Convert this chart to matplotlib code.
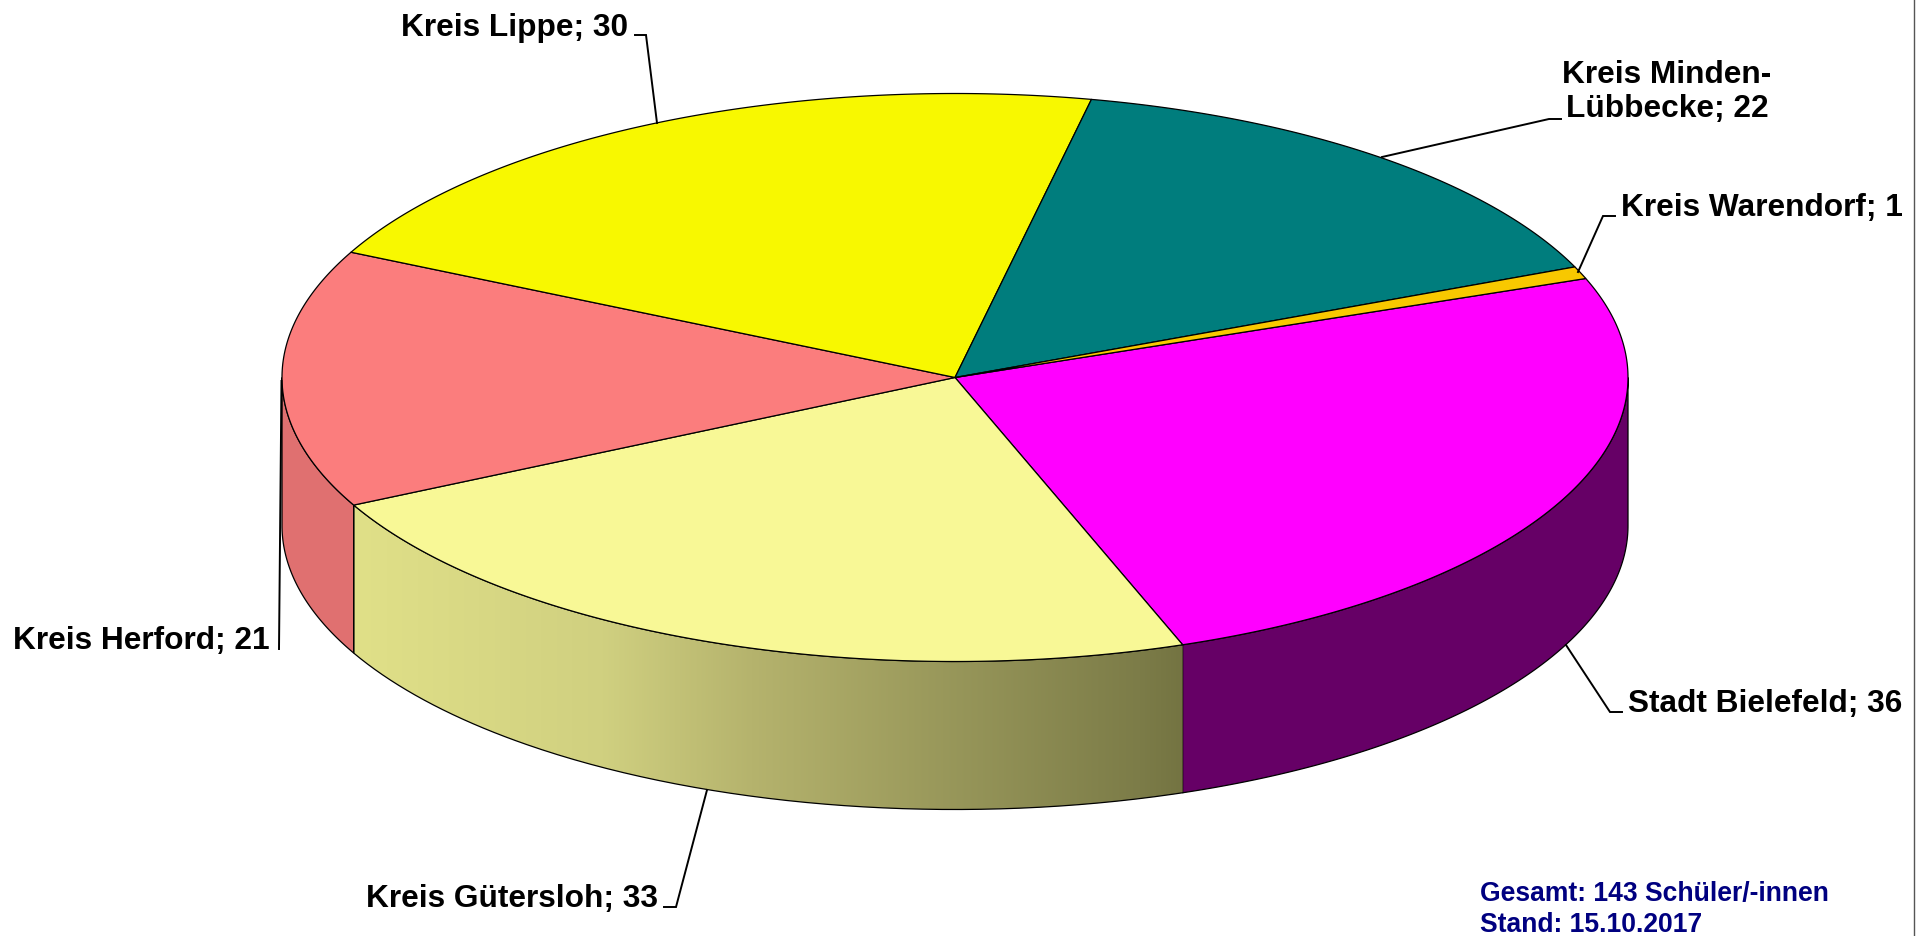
import numpy as np
import matplotlib
matplotlib.use("Agg")
import matplotlib.pyplot as plt
from matplotlib.patches import Polygon

# ---- data ----
categories = ["Stadt Bielefeld", "Kreis Gütersloh", "Kreis Herford", "Kreis Lippe",
              "Kreis Minden-\nLübbecke", "Kreis Warendorf"]
values = [36, 33, 21, 30, 22, 1]
top_colors = ["#FF00FF", "#F8F896", "#FB7D7D", "#F8F800", "#007D7D", "#F8C800"]
side_colors = ["#660066", None, "#E07070", None, None, None]
footer = ["Gesamt: 143 Schüler/-innen", "Stand: 15.10.2017"]

W, H = 1930, 936
CX, CY, RX, RY, DEPTH = 955, 377.5, 673, 284, 148
START_DEG = 20.4
FONT = "Liberation Sans"

fig = plt.figure(figsize=(W / 100, H / 100), dpi=100)
ax = fig.add_axes([0, 0, 1, 1])
ax.set_xlim(0, W)
ax.set_ylim(H, 0)
ax.axis("off")


def pt(deg):
    a = np.radians(deg)
    return CX + RX * np.cos(a), CY - RY * np.sin(a)


edges = START_DEG - np.concatenate([[0], np.cumsum(values)]) * 360 / sum(values)
EC = "#000000"
LW = 0.9

# side wall: only the visible front arc
for i, (a0, a1) in enumerate(zip(edges[:-1], edges[1:])):
    lo, hi = max(a1, -180), min(a0, 0)
    if lo >= hi:
        continue
    ang = np.linspace(hi, lo, 200)
    x, y = pt(ang)
    verts = np.column_stack([np.r_[x, x[::-1]], np.r_[y, y[::-1] + DEPTH]])
    if side_colors[i] is not None:
        ax.add_patch(Polygon(verts, closed=True, fc=side_colors[i], ec=EC, lw=LW, zorder=2))
    else:
        poly = Polygon(verts, closed=True, fc="none", ec="none", zorder=2)
        ax.add_patch(poly)
        stops = [0, 0.30, 0.48, 0.95, 1]
        rgb = np.array([[0xE0, 0xE0, 0x88], [0xD0, 0xD0, 0x80], [0xB5, 0xB3, 0x6D],
                        [0x7C, 0x7C, 0x48], [0x74, 0x74, 0x42]]) / 255
        t = np.linspace(0, 1, 256)
        grad = np.stack([np.interp(t, stops, rgb[:, k]) for k in range(3)], axis=-1)[None, :, :]
        im = ax.imshow(grad, extent=[x.min(), x.max(), y.max() + DEPTH, y.min()],
                       aspect="auto", zorder=2, interpolation="bilinear")
        im.set_clip_path(poly)
        ax.plot(verts[:, 0], verts[:, 1], color=EC, lw=LW, zorder=2.5)
ax.set_xlim(0, W)
ax.set_ylim(H, 0)

# top slices
for i, (a0, a1) in enumerate(zip(edges[:-1], edges[1:])):
    ang = np.linspace(a0, a1, 200)
    x, y = pt(ang)
    verts = np.column_stack([np.r_[CX, x], np.r_[CY, y]])
    ax.add_patch(Polygon(verts, closed=True, fc=top_colors[i], ec=EC, lw=LW, zorder=3))

# leader lines
leaders = [
    ([1566, 1610, 1622], [645, 712, 712]),
    ([707, 676, 664], [790, 907, 907]),
    ([281.5, 279], [381, 649]),
    ([657, 646, 635], [123, 35, 35]),
    ([1382, 1549, 1561], [157, 119, 119]),
    ([1578, 1603, 1615], [272, 216, 216]),
]
for xs, ys in leaders:
    ax.plot(xs, ys, color="black", lw=1.4, zorder=4, solid_joinstyle="miter")

# labels
labels = [f"{c}; {v}" for c, v in zip(categories, values)]
placements = [
    (1628, 712, "left"),
    (658, 907, "right"),
    (270, 649, "right"),
    (628, 36, "right"),
    (1667, 117, "center"),
    (1621, 216, "left"),
]
for s, (x, y, ha) in zip(labels, placements):
    ax.text(x, y, s, ha=ha, va="baseline", family=FONT, fontweight="bold",
            fontsize=22.8, color="black", linespacing=1.19, zorder=5,
            multialignment="center")

# footer note
for s, y in zip(footer, [901, 932]):
    ax.text(1480, y, s, ha="left", va="baseline", family=FONT, fontweight="bold",
            fontsize=19.1, color="#000080", zorder=5)

# thin grey rule at the right edge of the image
ax.axvline(1914, color="#555555", lw=1.0, zorder=1)

fig.savefig("out.png", dpi=100, facecolor="white")
